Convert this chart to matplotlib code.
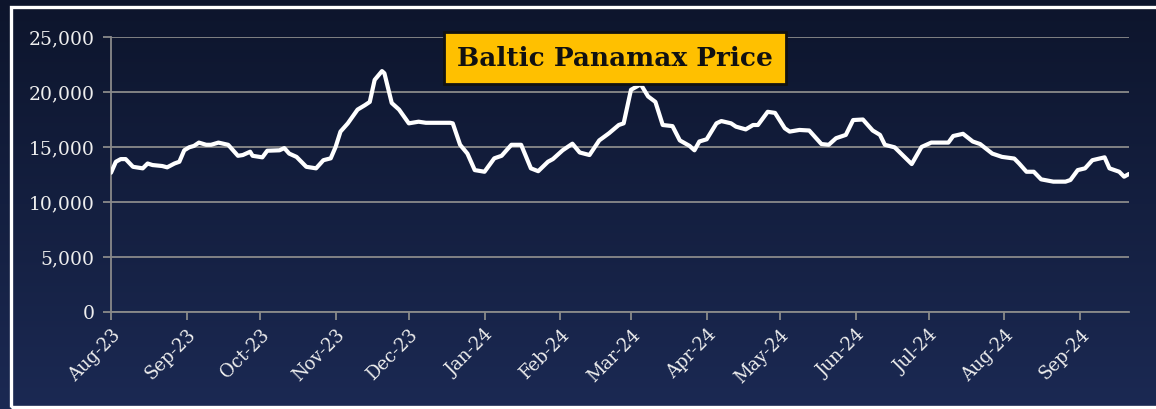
import numpy as np
import pandas as pd
import matplotlib
matplotlib.use("Agg")
import matplotlib.pyplot as plt
import matplotlib.dates as mdates
from matplotlib.patches import Rectangle

# ---- data ----
dates = [
    "2023-08-01", "2023-08-03", "2023-08-05", "2023-08-07", "2023-08-10", "2023-08-14",
    "2023-08-16", "2023-08-18", "2023-08-22", "2023-08-24", "2023-08-27", "2023-08-29",
    "2023-08-31", "2023-09-02", "2023-09-04", "2023-09-06", "2023-09-09", "2023-09-11",
    "2023-09-14", "2023-09-18", "2023-09-20", "2023-09-22", "2023-09-24", "2023-09-27",
    "2023-09-28", "2023-10-02", "2023-10-04", "2023-10-09", "2023-10-11", "2023-10-13",
    "2023-10-16", "2023-10-20", "2023-10-24", "2023-10-27", "2023-10-30", "2023-11-01",
    "2023-11-03", "2023-11-06", "2023-11-10", "2023-11-13", "2023-11-15", "2023-11-17",
    "2023-11-20", "2023-11-21", "2023-11-24", "2023-11-27", "2023-12-01", "2023-12-05",
    "2023-12-08", "2023-12-18", "2023-12-19", "2023-12-22", "2023-12-25", "2023-12-28",
    "2024-01-01", "2024-01-05", "2024-01-08", "2024-01-12", "2024-01-16", "2024-01-20",
    "2024-01-23", "2024-01-27", "2024-01-29", "2024-02-02", "2024-02-06", "2024-02-09",
    "2024-02-13", "2024-02-17", "2024-02-21", "2024-02-25", "2024-02-27", "2024-03-01",
    "2024-03-05", "2024-03-08", "2024-03-11", "2024-03-14", "2024-03-18", "2024-03-21",
    "2024-03-25", "2024-03-27", "2024-03-29", "2024-04-01", "2024-04-05", "2024-04-07",
    "2024-04-11", "2024-04-13", "2024-04-17", "2024-04-20", "2024-04-22", "2024-04-26",
    "2024-04-29", "2024-05-03", "2024-05-05", "2024-05-09", "2024-05-13", "2024-05-18",
    "2024-05-21", "2024-05-24", "2024-05-28", "2024-05-31", "2024-06-04", "2024-06-08",
    "2024-06-11", "2024-06-13", "2024-06-17", "2024-06-21", "2024-06-24", "2024-06-28",
    "2024-07-02", "2024-07-09", "2024-07-11", "2024-07-15", "2024-07-19", "2024-07-22",
    "2024-07-27", "2024-07-31", "2024-08-05", "2024-08-07", "2024-08-10", "2024-08-13",
    "2024-08-16", "2024-08-21", "2024-08-26", "2024-08-28", "2024-08-31", "2024-09-03",
    "2024-09-06", "2024-09-11", "2024-09-13", "2024-09-17", "2024-09-19", "2024-09-21",
]
prices = [
    12660, 13660, 13900, 13900, 13200, 13060,
    13500, 13360, 13270, 13150, 13500, 13660,
    14700, 14970, 15100, 15400, 15200, 15200,
    15400, 15200, 14700, 14200, 14270, 14570,
    14200, 14060, 14660, 14700, 14900, 14400,
    14100, 13200, 13060, 13800, 13970, 15000,
    16400, 17150, 18400, 18800, 19100, 21100,
    21900, 21700, 19000, 18400, 17150, 17300,
    17200, 17200, 17150, 15200, 14400, 12900,
    12750, 13970, 14200, 15200, 15200, 13060,
    12800, 13660, 13900, 14700, 15300, 14500,
    14270, 15600, 16250, 17000, 17150, 20200,
    20700, 19600, 19100, 17000, 16900, 15600,
    15100, 14700, 15500, 15700, 17150, 17360,
    17150, 16850, 16600, 17000, 17000, 18200,
    18100, 16700, 16400, 16550, 16500, 15270,
    15200, 15800, 16100, 17450, 17500, 16500,
    16100, 15200, 14970, 14100, 13450, 15000,
    15400, 15400, 16000, 16200, 15500, 15270,
    14400, 14100, 13950, 13500, 12750, 12750,
    12060, 11850, 11850, 12000, 12900, 13060,
    13800, 14060, 13060, 12750, 12300, 12550,
]
y_ticks = [0, 5000, 10000, 15000, 20000, 25000]
title_text = "Baltic Panamax Price"

W, H = 1156, 409
fig = plt.figure(figsize=(W / 100, H / 100), dpi=100)

# background gradient
bg = fig.add_axes([0, 0, 1, 1], zorder=-10)
grad = np.linspace(0, 1, 256).reshape(-1, 1)
top = np.array([0x0d, 0x15, 0x2c]) / 255
bot = np.array([0x1b, 0x29, 0x53]) / 255
img = top[None, None, :] * (1 - grad[:, :, None]) + bot[None, None, :] * grad[:, :, None]
bg.imshow(img, aspect="auto", extent=[0, 1, 0, 1], origin="upper")
bg.set_xlim(0, 1)
bg.set_ylim(0, 1)
bg.axis("off")
# white frame
bg.add_patch(Rectangle((11 / W, 1 - 407 / H), 1.2, (407 - 7) / H,
                       fill=False, edgecolor="white", linewidth=2.4,
                       transform=bg.transAxes, clip_on=False))

x = pd.to_datetime(dates)
ax = fig.add_axes([111 / W, 1 - 312 / H, (1129 - 111) / W, (312 - 37) / H])
ax.set_facecolor("none")
ax.plot(x, prices, color="white", linewidth=3.0, solid_joinstyle="round",
        solid_capstyle="round", zorder=3)

ax.set_ylim(0, 25000)
ax.set_xlim(pd.Timestamp("2023-08-01"), pd.Timestamp("2024-09-21"))
ax.set_yticks(y_ticks)
ax.yaxis.set_major_formatter(matplotlib.ticker.FuncFormatter(lambda v, p: f"{int(v):,}"))
ax.xaxis.set_major_locator(mdates.MonthLocator())
ax.xaxis.set_major_formatter(mdates.DateFormatter("%b-%y"))

gridc = "#8a8a8a"
ax.grid(axis="y", color=gridc, linewidth=1.3)
ax.grid(axis="x", visible=False)
for s in ["top", "right"]:
    ax.spines[s].set_visible(False)
for s in ["left", "bottom"]:
    ax.spines[s].set_color(gridc)
    ax.spines[s].set_linewidth(1.3)
ax.tick_params(axis="both", colors=gridc, length=6, width=1.3)
ax.tick_params(axis="y", labelcolor="#eeeeee", labelsize=13.5, pad=6)
ax.tick_params(axis="x", labelcolor="#eeeeee", labelsize=13, pad=4)
for lab in ax.get_yticklabels():
    lab.set_fontfamily("DejaVu Serif")
for lab in ax.get_xticklabels():
    lab.set_fontfamily("DejaVu Serif")
    lab.set_rotation(45)
    lab.set_ha("right")
    lab.set_rotation_mode("anchor")

# title box
fig.text(615 / W, 1 - 58 / H, title_text, ha="center", va="center",
         fontsize=19, fontweight="bold", family="DejaVu Serif", color="#111111",
         bbox=dict(boxstyle="square,pad=0.5", facecolor="#ffc000",
                   edgecolor="#111111", linewidth=2))

fig.savefig("out.png", dpi=100)
